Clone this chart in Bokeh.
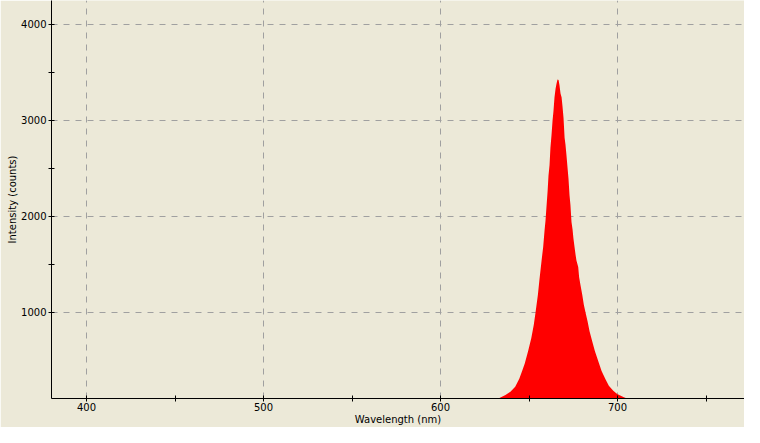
from bokeh.plotting import figure
from bokeh.models import ColumnDataSource, FixedTicker, Range1d
from bokeh.embed import file_html
from bokeh.resources import INLINE

# Spectrum (wavelength nm, intensity counts)
wavelength = [380.0, 529.5, 530.5, 531.5, 628.5, 629.6, 633.0, 636.7, 639.5, 642.2,
              644.5, 646.1, 647.6, 649.5, 651.3, 652.7, 653.7, 655.0, 655.9, 657.1,
              658.0, 658.8, 659.3, 659.9, 660.5, 661.0, 661.6, 662.1, 662.7, 663.3,
              663.8, 664.4, 665.0, 665.5, 666.1, 666.7, 667.2, 667.8, 668.4, 668.9,
              669.5, 670.1, 670.6, 671.2, 671.8, 672.3, 672.9, 673.4, 674.0, 674.6,
              675.1, 675.7, 676.3, 676.8, 677.8, 678.3, 679.1, 680.1, 681.0, 681.9,
              683.1, 684.2, 685.7, 687.2, 689.1, 691.0, 693.2, 695.1, 697.6, 699.8,
              703.6, 707.3, 708.5, 780.0]
counts = [60, 60, 95, 60, 60, 78, 103, 137, 170, 222,
          305, 388, 465, 594, 732, 869, 1000, 1178, 1340, 1540,
          1680, 1856, 1952, 2106, 2261, 2423, 2536, 2714, 2845, 3000,
          3093, 3240, 3330, 3380, 3426, 3420, 3370, 3281, 3240, 3151,
          3024, 2818, 2749, 2629, 2498, 2395, 2216, 2120, 1941, 1862,
          1769, 1683, 1600, 1540, 1470, 1367, 1281, 1178, 1075, 1000,
          903, 800, 697, 594, 491, 388, 302, 233, 181, 147,
          113, 86, 60, 60]

x_major = [400, 500, 600, 700]
x_minor = [450, 550, 650, 750]
y_major = [1000, 2000, 3000, 4000]
y_minor = [1500, 2500, 3500]

BG = "#ECE9D8"
FONT = "DejaVu Sans"

src = ColumnDataSource(data=dict(x=wavelength, y=counts))

p = figure(width=744, height=427, output_backend="svg", toolbar_location=None,
           x_range=Range1d(380.2, 771.75), y_range=Range1d(100, 4250),
           min_border_left=51, min_border_right=0, min_border_top=0, min_border_bottom=28)
p.background_fill_color = BG
p.border_fill_color = BG
p.outline_line_color = None

p.varea(x="x", y1=0, y2="y", source=src, fill_color="#FF0000", fill_alpha=1.0)

for ax in (p.xaxis[0], p.yaxis[0]):
    ax.axis_line_color = "black"
    ax.major_tick_line_color = "black"
    ax.minor_tick_line_color = "black"
    ax.major_tick_in = 3
    ax.major_tick_out = 3
    ax.minor_tick_in = 3
    ax.minor_tick_out = 3
    ax.major_label_text_font = FONT
    ax.major_label_text_font_size = "10px"
    ax.major_label_text_color = "black"
    ax.axis_label_text_font = FONT
    ax.axis_label_text_font_size = "10px"
    ax.axis_label_text_font_style = "normal"
    ax.axis_label_text_color = "black"

p.xaxis.major_label_standoff = 1
p.xaxis.axis_label_standoff = 0
p.yaxis.major_label_standoff = 2
p.yaxis.axis_label_standoff = 0

p.xaxis.ticker = FixedTicker(ticks=x_major, minor_ticks=x_minor)
p.yaxis.ticker = FixedTicker(ticks=y_major, minor_ticks=y_minor)
p.xaxis.axis_label = "Wavelength (nm)"
p.yaxis.axis_label = "Intensity (counts)"

for g in (p.xgrid[0], p.ygrid[0]):
    g.grid_line_color = "#A0A0A0"
    g.grid_line_dash = "6 6"
    g.grid_line_width = 1

open("out.html", "w").write(file_html(p, INLINE))
